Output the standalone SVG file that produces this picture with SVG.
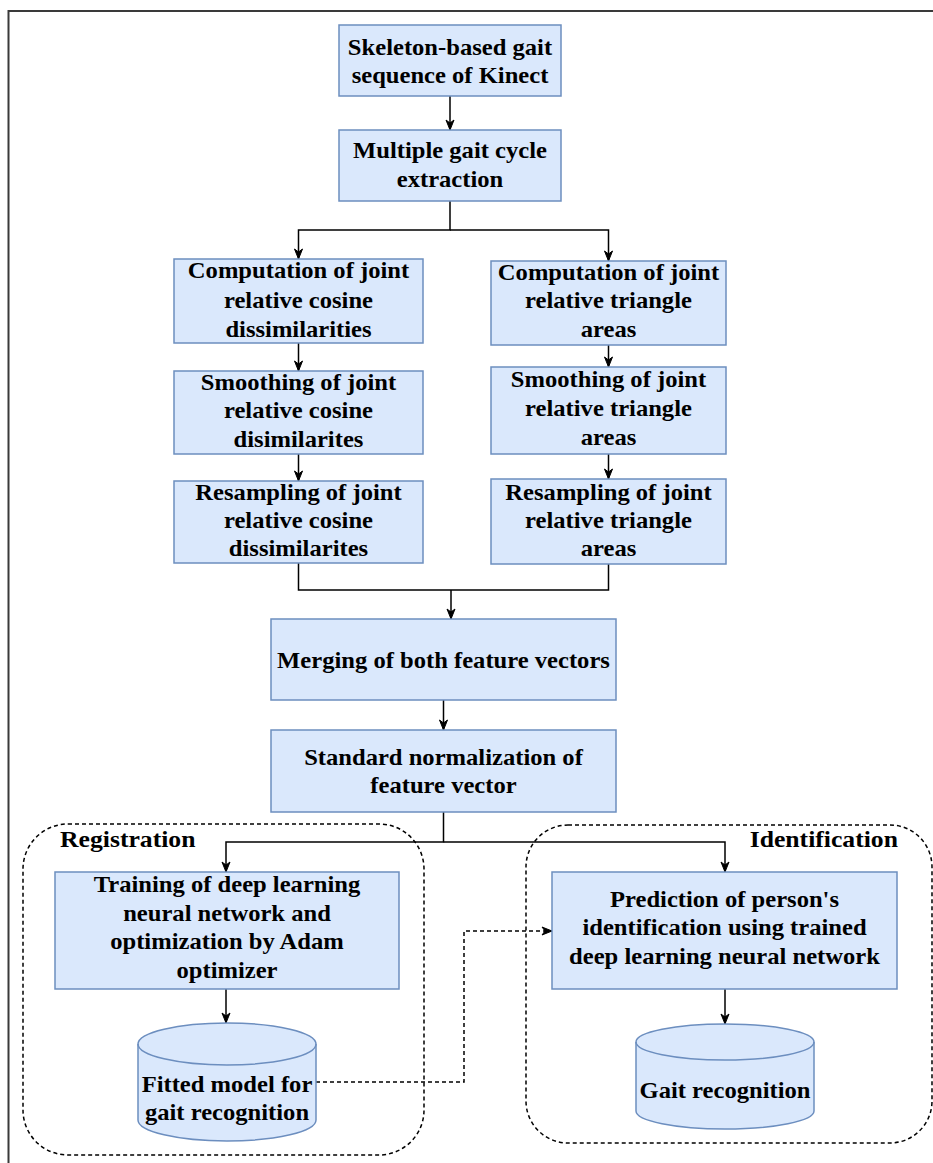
<svg xmlns="http://www.w3.org/2000/svg" width="933" height="1163" viewBox="0 0 933 1163">
<style>
.box{fill:#dae8fc;stroke:#6c8ebf;stroke-width:1.5}
.t{font-family:"Liberation Serif","Times New Roman",serif;font-weight:bold;font-size:23px;fill:#000;text-anchor:middle}
.lbl{font-family:"Liberation Serif","Times New Roman",serif;font-weight:bold;font-size:24px;fill:#000}
.ln{fill:none;stroke:#000;stroke-width:1.5}
.dash{fill:none;stroke:#000;stroke-width:1.5;stroke-dasharray:4 3}
</style>
<defs>
<marker id="ah" markerWidth="12" markerHeight="10" refX="11" refY="5" orient="auto" markerUnits="userSpaceOnUse">
<path d="M1,1 L11,5 L1,9 L4,5 Z" fill="#000" stroke="#000" stroke-width="1"/>
</marker>
</defs>
<rect width="933" height="1163" fill="#fff"/>
<path d="M8.5,1163 V11 H933" fill="none" stroke="#3a3a3a" stroke-width="2"/>

<g id="regions">
<rect id="registration" x="23" y="824" width="401" height="331" rx="45" ry="45" class="dash"/>
<text class="lbl" x="56.07" y="847" transform="scale(1.07 1)">Registration</text>
<rect id="identification" x="526" y="825" width="406" height="318" rx="42" ry="42" class="dash"/>
<text class="lbl" x="839.25" y="847" text-anchor="end" transform="scale(1.07 1)">Identification</text>
</g>

<g id="connectors">
<path class="ln" d="M450,96 V130" marker-end="url(#ah)"/>
<path class="ln" d="M450,201 V230 H298.5 V259" marker-end="url(#ah)"/>
<path class="ln" d="M450,230 H608.5 V261" marker-end="url(#ah)"/>
<path class="ln" d="M298.5,343 V371" marker-end="url(#ah)"/>
<path class="ln" d="M298.5,454 V481" marker-end="url(#ah)"/>
<path class="ln" d="M608.5,345 V367" marker-end="url(#ah)"/>
<path class="ln" d="M608.5,454 V479" marker-end="url(#ah)"/>
<path class="ln" d="M298.5,563 V590 H608.5 V564"/>
<path class="ln" d="M451,590 V619" marker-end="url(#ah)"/>
<path class="ln" d="M443.5,700 V730" marker-end="url(#ah)"/>
<path class="ln" d="M443.5,812 V842 H226 V872" marker-end="url(#ah)"/>
<path class="ln" d="M443.5,842 H725 V872" marker-end="url(#ah)"/>
<path class="ln" d="M226,989 V1023" marker-end="url(#ah)"/>
<path class="ln" d="M725,989 V1024" marker-end="url(#ah)"/>
<path class="dash" d="M316,1082 H464 V931 H552" marker-end="url(#ah)"/>
</g>

<g id="n1">
<rect class="box" x="339" y="25" width="222" height="71"/>
<text class="t" x="420.56" y="55" transform="scale(1.07 1)">Skeleton-based gait</text>
<text class="t" x="420.56" y="83" transform="scale(1.07 1)">sequence of Kinect</text>
</g>
<g id="n2">
<rect class="box" x="339" y="130" width="222" height="71"/>
<text class="t" x="420.56" y="158" transform="scale(1.07 1)">Multiple gait cycle</text>
<text class="t" x="420.56" y="187" transform="scale(1.07 1)">extraction</text>
</g>

<g id="n3">
<rect class="box" x="174" y="259" width="249" height="84"/>
<text class="t" x="278.97" y="278" transform="scale(1.07 1)">Computation of joint</text>
<text class="t" x="278.97" y="308" transform="scale(1.07 1)">relative cosine</text>
<text class="t" x="278.97" y="337" transform="scale(1.07 1)">dissimilarities</text>
</g>
<g id="n4">
<rect class="box" x="174" y="371" width="249" height="83"/>
<text class="t" x="278.97" y="390" transform="scale(1.07 1)">Smoothing of joint</text>
<text class="t" x="278.97" y="418.5" transform="scale(1.07 1)">relative cosine</text>
<text class="t" x="278.97" y="447" transform="scale(1.07 1)">disimilarites</text>
</g>
<g id="n5">
<rect class="box" x="174" y="481" width="249" height="82"/>
<text class="t" x="278.97" y="500" transform="scale(1.07 1)">Resampling of joint</text>
<text class="t" x="278.97" y="528" transform="scale(1.07 1)">relative cosine</text>
<text class="t" x="278.97" y="556" transform="scale(1.07 1)">dissimilarites</text>
</g>

<g id="n6">
<rect class="box" x="491" y="261" width="235" height="84"/>
<text class="t" x="568.69" y="280" transform="scale(1.07 1)">Computation of joint</text>
<text class="t" x="568.69" y="308" transform="scale(1.07 1)">relative triangle</text>
<text class="t" x="568.69" y="337" transform="scale(1.07 1)">areas</text>
</g>
<g id="n7">
<rect class="box" x="491" y="367" width="235" height="87"/>
<text class="t" x="568.69" y="387" transform="scale(1.07 1)">Smoothing of joint</text>
<text class="t" x="568.69" y="416" transform="scale(1.07 1)">relative triangle</text>
<text class="t" x="568.69" y="445" transform="scale(1.07 1)">areas</text>
</g>
<g id="n8">
<rect class="box" x="491" y="479" width="235" height="85"/>
<text class="t" x="568.69" y="500" transform="scale(1.07 1)">Resampling of joint</text>
<text class="t" x="568.69" y="528" transform="scale(1.07 1)">relative triangle</text>
<text class="t" x="568.69" y="556" transform="scale(1.07 1)">areas</text>
</g>

<g id="n9">
<rect class="box" x="271" y="619" width="345" height="81"/>
<text class="t" x="414.49" y="668" transform="scale(1.07 1)">Merging of both feature vectors</text>
</g>
<g id="n10">
<rect class="box" x="271" y="730" width="345" height="82"/>
<text class="t" x="414.49" y="765" transform="scale(1.07 1)">Standard normalization of</text>
<text class="t" x="414.49" y="793" transform="scale(1.07 1)">feature vector</text>
</g>

<g id="n11">
<rect class="box" x="55" y="872" width="344" height="117"/>
<text class="t" x="212.15" y="892" transform="scale(1.07 1)">Training of deep learning</text>
<text class="t" x="212.15" y="921" transform="scale(1.07 1)">neural network and</text>
<text class="t" x="212.15" y="949" transform="scale(1.07 1)">optimization by Adam</text>
<text class="t" x="212.15" y="978" transform="scale(1.07 1)">optimizer</text>
</g>
<g id="n12">
<rect class="box" x="552" y="872" width="345" height="117"/>
<text class="t" x="677.10" y="907" transform="scale(1.07 1)">Prediction of person's</text>
<text class="t" x="677.10" y="935" transform="scale(1.07 1)">identification using trained</text>
<text class="t" x="677.10" y="964" transform="scale(1.07 1)">deep learning neural network</text>
</g>

<g id="n13">
<path class="box" d="M138,1044 A89,21 0 0 1 316,1044 V1120 A89,21 0 0 1 138,1120 Z"/>
<path class="box" fill="none" d="M138,1044 A89,21 0 0 0 316,1044" style="fill:none"/>
<text class="t" x="212.15" y="1092" transform="scale(1.07 1)">Fitted model for</text>
<text class="t" x="212.15" y="1120" transform="scale(1.07 1)">gait recognition</text>
</g>
<g id="n14">
<path class="box" d="M636,1042 A89,18 0 0 1 814,1042 V1111 A89,18 0 0 1 636,1111 Z"/>
<path class="box" d="M636,1042 A89,18 0 0 0 814,1042" style="fill:none"/>
<text class="t" x="677.57" y="1098" transform="scale(1.07 1)">Gait recognition</text>
</g>
</svg>
